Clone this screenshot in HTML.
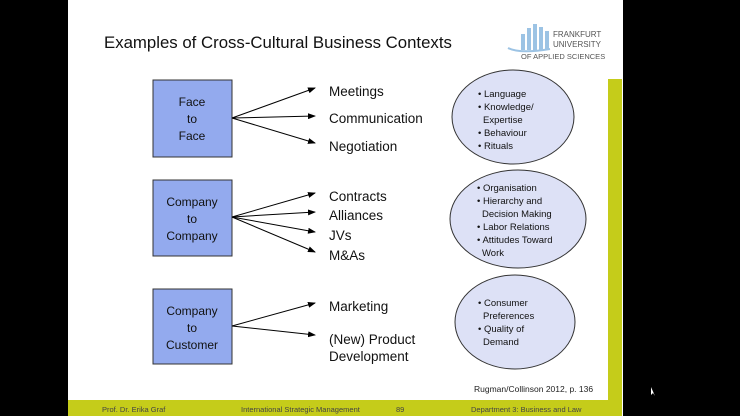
<!DOCTYPE html>
<html><head><meta charset="utf-8"><style>
html,body{margin:0;padding:0;background:#000;}
body{width:740px;height:416px;position:relative;overflow:hidden;font-family:"Liberation Sans",sans-serif;}
</style></head><body>
<svg width="740" height="416" viewBox="0 0 740 416" xmlns="http://www.w3.org/2000/svg" style="position:absolute;left:0;top:0">
<defs><marker id="a" markerWidth="8" markerHeight="6" refX="7" refY="3" orient="auto" markerUnits="userSpaceOnUse"><path d="M0,0 L8,3 L0,6 z" fill="#000"/></marker></defs>
<rect x="0" y="0" width="740" height="416" fill="#000"/>
<rect x="68" y="0" width="555" height="416" fill="#fff"/>
<rect x="608" y="79" width="14" height="322" fill="#c5cc1a"/>
<rect x="68" y="400" width="554" height="16" fill="#c5cc1a"/>
<text x="104" y="48" font-size="16.8" fill="#111">Examples of Cross-Cultural Business Contexts</text>
<g fill="#9cc3e4"><rect x="521" y="34" width="4" height="16"/><rect x="527" y="28" width="4" height="22"/><rect x="533" y="24" width="4" height="26"/><rect x="539" y="27" width="4" height="23"/><rect x="545" y="31" width="4" height="19"/></g>
<path d="M508,48 Q520,54 550,49" stroke="#9cc3e4" stroke-width="2" fill="none"/>
<text x="553" y="37" font-size="8" fill="#555">FRANKFURT</text>
<text x="553" y="47" font-size="8" fill="#555">UNIVERSITY</text>
<text x="521" y="59" font-size="7.5" fill="#555">OF APPLIED SCIENCES</text>
<g fill="#93aaee" stroke="#333" stroke-width="1">
<rect x="153" y="80" width="79" height="77"/>
<rect x="153" y="180" width="79" height="76"/>
<rect x="153" y="289" width="79" height="75"/>
</g>
<g font-size="12" fill="#111" text-anchor="middle">
<text x="192" y="106">Face</text><text x="192" y="123">to</text><text x="192" y="140">Face</text>
<text x="192" y="206">Company</text><text x="192" y="223">to</text><text x="192" y="240">Company</text>
<text x="192" y="315">Company</text><text x="192" y="332">to</text><text x="192" y="349">Customer</text>
</g>
<g stroke="#000" stroke-width="1" marker-end="url(#a)">
<line x1="232" y1="118" x2="315" y2="88"/><line x1="232" y1="118" x2="315" y2="116"/><line x1="232" y1="118" x2="315" y2="143"/>
<line x1="232" y1="217" x2="315" y2="193"/><line x1="232" y1="217" x2="315" y2="212"/><line x1="232" y1="217" x2="315" y2="232"/><line x1="232" y1="217" x2="315" y2="252"/>
<line x1="232" y1="326" x2="315" y2="303"/><line x1="232" y1="326" x2="315" y2="335"/>
</g>
<g font-size="13.5" fill="#111">
<text x="329" y="96">Meetings</text><text x="329" y="123">Communication</text><text x="329" y="151">Negotiation</text>
<text x="329" y="201">Contracts</text><text x="329" y="220">Alliances</text><text x="329" y="240">JVs</text><text x="329" y="260">M&amp;As</text>
<text x="329" y="311">Marketing</text><text x="329" y="344">(New) Product</text><text x="329" y="361">Development</text>
</g>
<g fill="#dde1f6" stroke="#333" stroke-width="1">
<ellipse cx="513" cy="117" rx="61" ry="47"/>
<ellipse cx="518" cy="219" rx="68" ry="49"/>
<ellipse cx="515" cy="322" rx="60" ry="47"/>
</g>
<g font-size="9.5" fill="#111">
<text x="478" y="97">• Language</text><text x="478" y="110">• Knowledge/</text><text x="483" y="123">Expertise</text><text x="478" y="136">• Behaviour</text><text x="478" y="149">• Rituals</text>
<text x="477" y="191">• Organisation</text><text x="477" y="204">• Hierarchy and</text><text x="482" y="217">Decision Making</text><text x="477" y="230">• Labor Relations</text><text x="477" y="243">• Attitudes Toward</text><text x="482" y="256">Work</text>
<text x="478" y="306">• Consumer</text><text x="483" y="319">Preferences</text><text x="478" y="332">• Quality of</text><text x="483" y="345">Demand</text>
</g>
<text x="474" y="392" font-size="8.5" fill="#222">Rugman/Collinson 2012, p. 136</text>
<g font-size="7.5" fill="#444">
<text x="102" y="412">Prof. Dr. Erika Graf</text>
<text x="241" y="412">International Strategic Management</text>
<text x="396" y="412">89</text>
<text x="471" y="412">Department 3:  Business and Law</text>
</g>
<path d="M651,387 L651,395 L653,393 L655,396 Z" fill="#fff"/>
</svg>
</body></html>
